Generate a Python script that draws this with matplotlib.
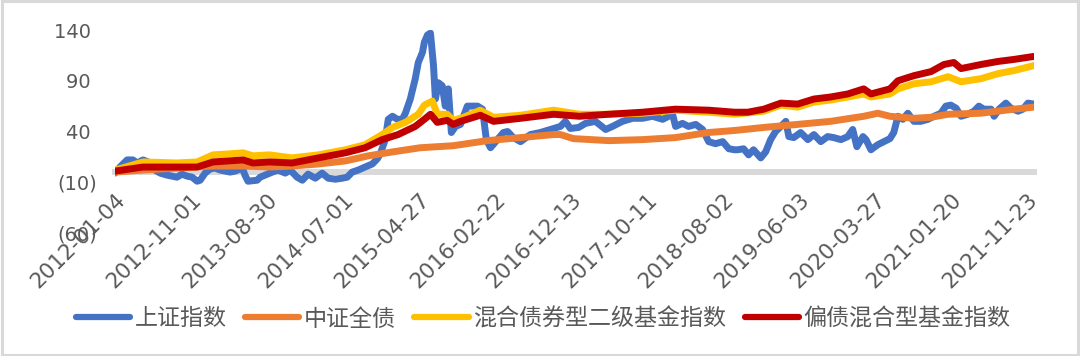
import matplotlib
matplotlib.use("Agg")
import matplotlib.pyplot as plt
from matplotlib.ticker import FixedLocator, FuncFormatter
import matplotlib.patches as mpatches

plt.rcParams['font.family'] = ['Noto Sans CJK SC', 'DejaVu Sans']

# ---------------- data ----------------
tick_labels = ["2012-01-04", "2012-11-01", "2013-08-30", "2014-07-01", "2015-04-27",
               "2016-02-22", "2016-12-13", "2017-10-11", "2018-08-02", "2019-06-03",
               "2020-03-27", "2021-01-20", "2021-11-23"]
n_days = 2418  # trading days in sample

series_names = ["上证指数", "中证全债", "混合债券型二级基金指数", "偏债混合型基金指数"]

# 上证指数 (trading-day index, cumulative return %)
sh_days = [0, 13, 32, 47, 58, 74, 87, 105, 119, 137, 163, 176, 190, 203, 216, 224, 237, 250,
           263, 277, 303, 316, 335, 342, 350, 374, 382, 395, 414, 429, 448, 461, 479, 493,
           508, 527, 545, 561, 580, 598, 611, 624, 640, 658, 677, 690, 698, 711, 719, 730,
           743, 756, 764, 777, 790, 798, 809, 814, 822, 830, 838, 843, 851, 861, 869, 877,
           885, 896, 909, 927, 954, 967, 977, 988, 1006, 1022, 1033, 1048, 1067, 1093, 1119,
           1146, 1172, 1185, 1198, 1220, 1238, 1264, 1291, 1309, 1335, 1362, 1388, 1414,
           1441, 1467, 1475, 1493, 1509, 1528, 1546, 1562, 1580, 1599, 1615, 1630, 1638,
           1654, 1667, 1680, 1699, 1712, 1725, 1738, 1752, 1765, 1773, 1786, 1804, 1823,
           1839, 1857, 1875, 1891, 1910, 1928, 1941, 1952, 1968, 1976, 1989, 2007, 2023,
           2039, 2049, 2060, 2073, 2086, 2102, 2120, 2139, 2155, 2173, 2186, 2199, 2213,
           2226, 2244, 2260, 2273, 2286, 2305, 2313, 2326, 2344, 2357, 2376, 2389, 2402, 2418]
sh_vals = [-1, 5, 12, 12, 9, 12, 10, 2, -1, -3, -5, -2, -4, -5, -9, -8, -1, 3,
           4, 2, 0, 1, 4, -3, -9, -8, -5, -3, 0, 2, -1, 2, -5, -8,
           -2, -6, -1, -6, -7, -6, -5, 0, 2, 5, 8, 13, 18, 32, 52, 55,
           52, 52, 58, 72, 92, 108, 118, 128, 135, 137, 105, 72, 88, 85, 65, 82,
           39, 45, 47, 65, 65, 62, 32, 24, 32, 39, 40, 34, 30, 37, 39,
           42, 45, 50, 43, 44, 48, 50, 42, 45, 50, 53, 53, 55,
           52, 57, 45, 48, 45, 47, 42, 30, 28, 30, 23, 22, 22,
           23, 17, 22, 14, 20, 32, 40, 45, 50, 35, 34, 39, 32,
           37, 30, 35, 34, 32, 35, 42, 25, 35, 32, 22, 27, 30,
           33, 39, 55, 52, 58, 50, 50, 52, 55, 58, 65, 66, 63,
           55, 57, 60, 65, 62, 62, 55, 62, 68, 63, 60, 62, 68, 67]

# 中证全债
bond_days = [0, 74, 163, 258, 337, 406, 466, 535, 606, 666, 732, 803, 890, 980, 1067, 1154,
             1172, 1206, 1299, 1388, 1475, 1562, 1630, 1707, 1796, 1883, 1970, 2007, 2039,
             2102, 2147, 2192, 2278, 2365, 2418]
bond_vals = [0, 2, 4, 6, 6, 5, 6, 8, 11, 16, 20, 24, 26, 31, 34, 37,
             37, 33, 31, 32, 34, 39, 41, 44, 47, 50, 55, 58, 55,
             53, 54, 57, 58, 62, 64]

# 混合债券型二级基金指数
mix2_days = [0, 74, 163, 216, 258, 303, 337, 363, 406, 466, 535, 606, 658, 703, 730, 764,
             798, 814, 835, 848, 874, 890, 917, 961, 996, 1067, 1154, 1222, 1299, 1388,
             1475, 1562, 1630, 1707, 1752, 1796, 1839, 1883, 1928, 1970, 1989, 2039, 2060,
             2102, 2147, 2192, 2226, 2278, 2323, 2365, 2418]
mix2_vals = [2, 10, 9, 10, 17, 18, 19, 16, 17, 14, 17, 22, 27, 37, 44, 49,
             57, 66, 70, 57, 57, 51, 54, 61, 54, 56, 61, 57, 57, 58,
             61, 59, 57, 60, 66, 64, 69, 71, 74, 77, 74, 77, 82,
             87, 89, 94, 89, 92, 97, 100, 105]

# 偏债混合型基金指数
pz_days = [0, 74, 163, 216, 258, 337, 363, 406, 466, 535, 606, 658, 703, 745, 790, 814,
           830, 848, 874, 890, 909, 961, 996, 1067, 1154, 1222, 1299, 1388, 1475, 1562,
           1630, 1665, 1707, 1752, 1796, 1839, 1883, 1928, 1970, 1989, 2039, 2060, 2102,
           2147, 2181, 2207, 2226, 2278, 2323, 2365, 2418]
pz_vals = [1, 5, 5, 5, 10, 12, 9, 10, 9, 14, 19, 24, 32, 37, 45, 52,
           57, 49, 51, 47, 50, 56, 50, 53, 57, 55, 57, 59, 62, 61,
           59, 59, 62, 68, 67, 72, 74, 77, 82, 77, 82, 90, 95,
           99, 106, 108, 102, 106, 109, 111, 114]

y_ticks = [-60, -10, 40, 90, 140]

colors = ["#4472C4", "#ED7D31", "#FFC000", "#C00000"]

# ---------------- figure ----------------
fig = plt.figure(figsize=(10.8, 3.56), dpi=100)
ax = fig.add_axes([115 / 1080, 1 - 233 / 356, 919 / 1080, 203 / 356])

all_days = [sh_days, bond_days, mix2_days, pz_days]
all_vals = [sh_vals, bond_vals, mix2_vals, pz_vals]
for d, v, c, name in zip(all_days, all_vals, colors, series_names):
    ax.plot(d, v, color=c, lw=5, label=name, solid_capstyle='round',
            solid_joinstyle='round', zorder=3)

ax.set_xlim(0, n_days)
ax.set_ylim(-60, 140)

for s in ['top', 'right', 'left']:
    ax.spines[s].set_visible(False)
ax.spines['bottom'].set_position(('data', 0))
ax.spines['bottom'].set_color('#D9D9D9')
ax.spines['bottom'].set_linewidth(4.3)
ax.spines['bottom'].set_zorder(1)

ax.xaxis.set_major_locator(FixedLocator([i * 200 for i in range(len(tick_labels))]))
ax.set_xticklabels(tick_labels, rotation=45, ha='right', va='top',
                   rotation_mode='anchor', fontsize=15.5, color='#595959',
                   family='DejaVu Sans')
ax.tick_params(axis='x', length=0, pad=12.5)

ax.yaxis.set_major_locator(FixedLocator(y_ticks))
ax.yaxis.set_major_formatter(FuncFormatter(
    lambda v, p: f"({abs(int(v))})" if v < 0 else f"{int(v)} "))
ax.tick_params(axis='y', length=0, pad=13, labelsize=14, labelcolor='#595959')
for t in ax.get_yticklabels():
    t.set_family('DejaVu Sans')

leg = fig.legend(loc='center', bbox_to_anchor=(0.503, 0.104), ncol=4, frameon=False,
                 fontsize=16.6, handlelength=2.35, handletextpad=0.2, columnspacing=0.8,
                 labelcolor='#595959')
for line in leg.get_lines():
    line.set_linewidth(4.5)
    line.set_solid_capstyle('round')

fig.patches.append(mpatches.Rectangle((0.0015, 0.003), 0.997, 0.994, transform=fig.transFigure,
                                      fill=False, edgecolor='#D9D9D9', lw=2.2))

fig.savefig("out.png", dpi=100)
